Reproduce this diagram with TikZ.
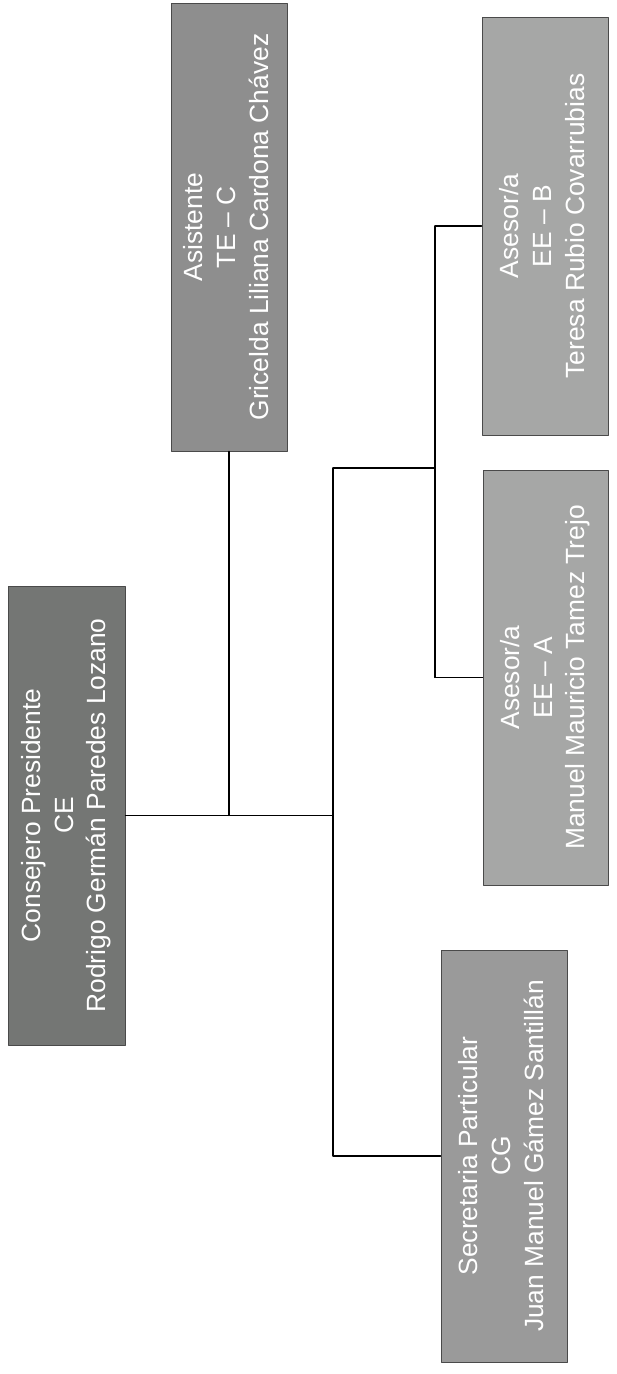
\documentclass[tikz,border=0pt]{standalone}
\usepackage{fontspec}
\setmainfont{Liberation Sans}
\usepackage{graphicx}
\usetikzlibrary{calc}
\definecolor{boxDark}{HTML}{747674}
\definecolor{boxMid}{HTML}{8E8E8E}
\definecolor{boxLight}{HTML}{A6A7A6}
\definecolor{boxSec}{HTML}{9A9A9A}
\definecolor{boxEdge}{HTML}{4A4A4A}

\newcommand{\vtext}[1]{\rotatebox{90}{\begin{tabular}{@{}c@{}}#1\end{tabular}}}

\begin{document}
\begin{tikzpicture}[line cap=round, line join=round]

\tikzset{
  post/.style={draw=boxEdge, line width=0.5pt, text=white, inner sep=0pt,
               font=\fontsize{15}{18.5}\selectfont},
  link/.style={black, line width=0.7pt},
}

\useasboundingbox (0,0) rectangle (12.32,-27.48);

% boxes
\node[post, fill=boxDark, minimum width=2.34cm, minimum height=9.18cm]
      (pres) at (1.33,-16.31)
      {\vtext{Consejero Presidente\\CE\\Rodrigo Germán Paredes Lozano}};
\node[post, fill=boxMid, minimum width=2.32cm, minimum height=8.96cm]
      (asis) at (4.58,-4.54)
      {\vtext{Asistente\\TE -- C\\Gricelda Liliana Cardona Chávez}};
\node[post, fill=boxLight, minimum width=2.52cm, minimum height=8.36cm]
      (aseB) at (10.90,-4.52)
      {\vtext{Asesor/a\\EE -- B\\Teresa Rubio Covarrubias}};
\node[post, fill=boxLight, minimum width=2.50cm, minimum height=8.30cm]
      (aseA) at (10.91,-13.55)
      {\vtext{Asesor/a\\EE -- A\\Manuel Mauricio Tamez Trejo}};
\node[post, fill=boxSec, minimum width=2.52cm, minimum height=8.24cm]
      (secr) at (10.08,-23.12)
      {\vtext{Secretaria Particular\\CG\\Juan Manuel Gámez Santillán}};

% buses
\coordinate (busTop) at (6.66,-9.36);
\coordinate (subBus) at (8.70,-9.36);

% connectors
\draw[link] (pres.east) -- (pres.east -| busTop);
\draw[link] (asis.south) -- (asis.south |- pres.east);
\draw[link] (busTop) -- (busTop |- secr.west) -- (secr.west);
\draw[link] (busTop) -- (subBus);
\draw[link] (aseB.west -| subBus) -- (aseA.west -| subBus);
\draw[link] (aseB.west -| subBus) -- (aseB.west);
\draw[link] (aseA.west -| subBus) -- (aseA.west);

\end{tikzpicture}
\end{document}
